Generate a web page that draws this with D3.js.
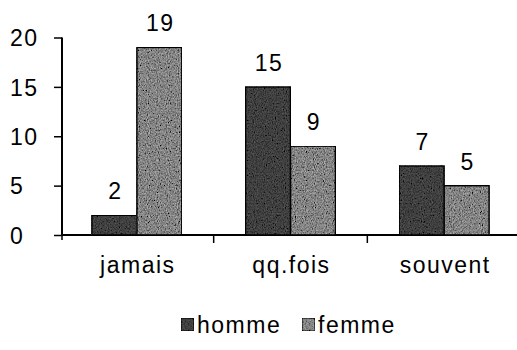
<!DOCTYPE html>
<html>
<head>
<meta charset="utf-8">
<script src="https://cdn.jsdelivr.net/npm/d3@7"></script>
<style>
  html, body { margin: 0; padding: 0; background: #fff; }
  svg text { font-family: "Liberation Sans", Arial, sans-serif; fill: #000; }
</style>
</head>
<body>
<svg id="chart" width="517" height="350"></svg>
<script>
// Responses by frequency, split by sex
const categories = ["jamais", "qq.fois", "souvent"];
const seriesNames = ["homme", "femme"];
const hommeValues = [2, 15, 7];
const femmeValues = [19, 9, 5];
const yTicks = [0, 5, 10, 15, 20];

const seriesValues = { homme: hommeValues, femme: femmeValues };
const seriesFill = { homme: "#404040", femme: "#858585" };

const svg = d3.select("#chart");

// grainy fill used on bars and legend swatches
const defs = svg.append("defs");
const grain = defs.append("filter").attr("id", "grain")
  .attr("x", 0).attr("y", 0).attr("width", 1).attr("height", 1);
grain.append("feTurbulence").attr("type", "fractalNoise")
  .attr("baseFrequency", "0.9 0.6").attr("numOctaves", 2).attr("seed", 7).attr("result", "noise");
grain.append("feColorMatrix").attr("in", "noise").attr("type", "matrix")
  .attr("values", "0.33 0.33 0.33 0 0  0.33 0.33 0.33 0 0  0.33 0.33 0.33 0 0  0 0 0 0 1")
  .attr("result", "grey");
const ct = grain.append("feComponentTransfer").attr("in", "grey").attr("result", "contrast");
["feFuncR", "feFuncG", "feFuncB"].forEach(f =>
  ct.append(f).attr("type", "linear").attr("slope", 2.6).attr("intercept", -0.8));
grain.append("feBlend").attr("in", "contrast").attr("in2", "SourceGraphic")
  .attr("mode", "overlay").attr("result", "blend");
grain.append("feComposite").attr("in", "blend").attr("in2", "SourceGraphic")
  .attr("operator", "in");

const x0 = d3.scaleBand().domain(categories).range([60, 521]).paddingInner(0).paddingOuter(0);
const groupWidth = 90;
const x1 = d3.scaleBand().domain(seriesNames).range([0, groupWidth]);
const y = d3.scaleLinear().domain([0, 20]).range([235, 37.5]);

const fontSize = "23px";

// y axis
const yAxis = svg.append("g").attr("transform", "translate(62,0)")
  .call(d3.axisLeft(y).tickValues(yTicks).tickSize(8).tickPadding(0));
yAxis.select(".domain").attr("stroke", "#000").attr("stroke-width", 2)
  .attr("d", `M0,${y(20)}V${y(0)}`);
yAxis.selectAll(".tick line").attr("stroke", "#000").attr("stroke-width", 1.5);
yAxis.selectAll(".tick text")
  .attr("x", -52).attr("text-anchor", "start").attr("dy", "0.36em")
  .style("font-size", fontSize).style("letter-spacing", "1.5px");

// x axis with ticks on the category boundaries
const xAxisG = svg.append("g").attr("transform", `translate(0,${y(0)})`);
xAxisG.append("line").attr("x1", 62).attr("x2", 517).attr("y1", 0).attr("y2", 0)
  .attr("stroke", "#000").attr("stroke-width", 2);
xAxisG.selectAll("line.sep").data(categories).join("line").attr("class", "sep")
  .attr("x1", d => x0(d)).attr("x2", d => x0(d))
  .attr("y1", 0).attr("y2", 8).attr("stroke", "#000").attr("stroke-width", 1.5)
  .filter((d, i) => i === 0).attr("x1", 62).attr("x2", 62).attr("y2", 5);
xAxisG.selectAll("text.cat").data(categories).join("text").attr("class", "cat")
  .attr("x", d => x0(d) + x0.bandwidth() / 2 + 1)
  .attr("y", 38).attr("text-anchor", "middle")
  .style("font-size", fontSize).style("letter-spacing", "1.5px")
  .text(d => d);

// bars
const groups = svg.selectAll("g.grp").data(categories).join("g").attr("class", "grp")
  .attr("transform", d => `translate(${x0(d) + (x0.bandwidth() - groupWidth) / 2},0)`);

groups.selectAll("rect").data((d, i) => seriesNames.map(s => ({ s, v: seriesValues[s][i] })))
  .join("rect")
  .attr("x", d => x1(d.s)).attr("width", x1.bandwidth())
  .attr("y", d => y(d.v)).attr("height", d => y(0) - y(d.v))
  .attr("fill", d => seriesFill[d.s]).attr("stroke", "#000").attr("stroke-width", 1.6)
  .attr("filter", "url(#grain)");

groups.selectAll("text.val").data((d, i) => seriesNames.map(s => ({ s, v: seriesValues[s][i] })))
  .join("text").attr("class", "val")
  .attr("x", d => x1(d.s) + x1.bandwidth() / 2 + 1)
  .attr("y", d => y(d.v) - 16).attr("text-anchor", "middle")
  .style("font-size", fontSize).style("letter-spacing", "1.5px")
  .text(d => d.v);

// legend
const legendItems = [{ s: "homme", x: 181 }, { s: "femme", x: 302 }];
const legend = svg.selectAll("g.leg").data(legendItems).join("g").attr("class", "leg")
  .attr("transform", d => `translate(${d.x},0)`);
legend.append("rect").attr("x", 0).attr("y", 318).attr("width", 13).attr("height", 13)
  .attr("fill", d => seriesFill[d.s]).attr("stroke", "#000").attr("stroke-width", 1)
  .attr("filter", "url(#grain)");
legend.append("text").attr("x", 16).attr("y", 333)
  .style("font-size", fontSize).style("letter-spacing", "1.5px")
  .text(d => d.s);
</script>
</body>
</html>
